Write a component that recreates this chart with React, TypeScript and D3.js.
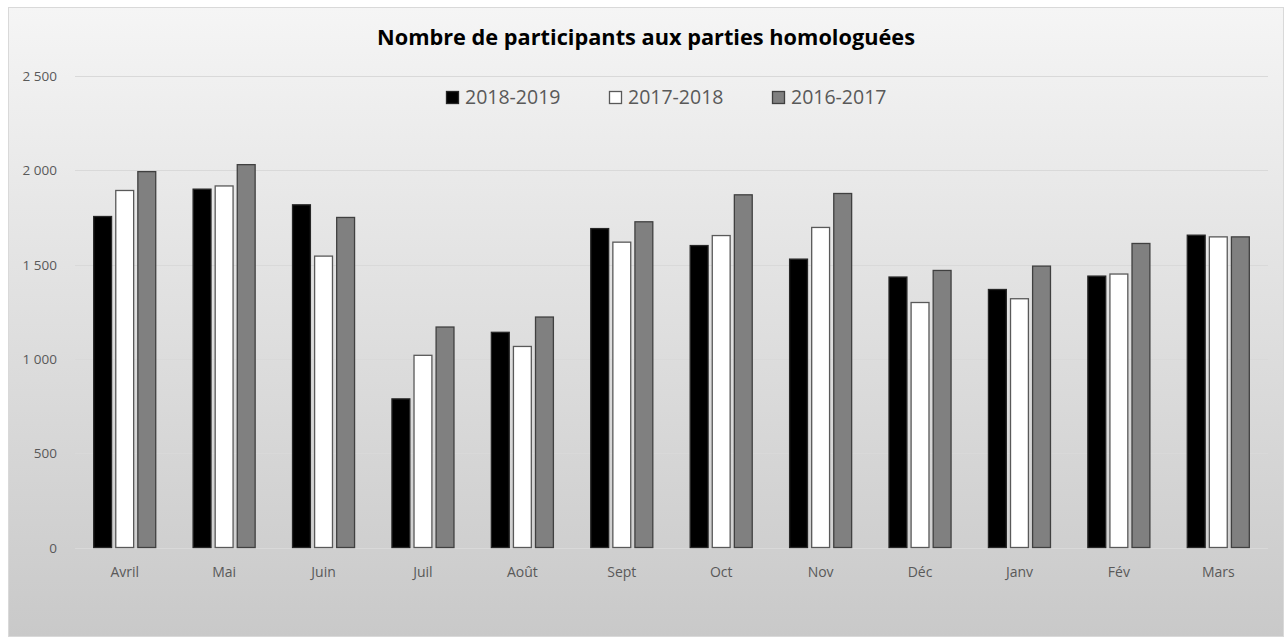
import React from 'react';
import * as d3 from 'd3';

// values
const months = ['Avril', 'Mai', 'Juin', 'Juil', 'Août', 'Sept', 'Oct', 'Nov', 'Déc', 'Janv', 'Fév', 'Mars'];
const seasons = ['2018-2019', '2017-2018', '2016-2017'];
const s2018 = [1755, 1900, 1817, 788, 1141, 1691, 1601, 1529, 1434, 1368, 1439, 1656];
const s2017 = [1893, 1917, 1545, 1019, 1066, 1619, 1654, 1697, 1299, 1319, 1450, 1647];
const s2016 = [1993, 2030, 1750, 1169, 1222, 1727, 1870, 1877, 1469, 1492, 1612, 1647];
const yTicks = [0, 500, 1000, 1500, 2000, 2500];

const fills = ['#000000', '#ffffff', '#808080'];
const strokes = ['#262626', '#595959', '#404040'];

const W = 1285;
const H = 639;
const margin = { top: 76, right: 17, bottom: 91, left: 75 };

export default function App() {
  const series = [s2018, s2017, s2016];

  const x0 = d3.scaleBand()
    .domain(months)
    .range([margin.left, W - margin.right])
    .paddingInner(0.376)
    .paddingOuter(0.188);

  const x1 = d3.scaleBand()
    .domain(seasons)
    .range([0, x0.bandwidth()])
    .paddingInner(0.19);

  const y = d3.scaleLinear()
    .domain([0, 2500])
    .range([H - margin.bottom - 0.5, margin.top]);

  const fmt = (v: number) => d3.format(',')(v).replace(',', ' ');
  const font = '"Open Sans", "Noto Sans", sans-serif';

  // legend positions
  const legendX = [446, 609, 772];

  return (
    <svg width={W} height={H} style={{ position: 'absolute', left: 0, top: 0 }}>
      <defs>
        <linearGradient id="bg" x1="0" y1="0" x2="0" y2="1">
          <stop offset="0%" stopColor="#f5f5f5" />
          <stop offset="100%" stopColor="#c9c9c9" />
        </linearGradient>
      </defs>
      <rect x={8.5} y={7.5} width={1275} height={629} fill="url(#bg)" stroke="#d9d9d9" />

      <text x={646} y={45} textAnchor="middle" fontFamily={font} fontWeight="bold"
        fontSize={21.5} fill="#000" textLength={538} lengthAdjust="spacingAndGlyphs">
        Nombre de participants aux parties homologuées
      </text>

      {/* grid + y labels */}
      {yTicks.map(t => (
        <g key={t}>
          <line x1={margin.left} x2={W - margin.right} y1={Math.round(y(t)) + 0.5} y2={Math.round(y(t)) + 0.5}
            stroke="#d9d9d9" strokeWidth={1} />
          <text x={57} y={y(t) + 5} textAnchor="end" fontFamily={font} fontSize={13.5} fill="#595959">
            {fmt(t)}
          </text>
        </g>
      ))}

      {/* bars */}
      {months.map((m, i) => (
        <g key={m} transform={`translate(${x0(m)},0)`}>
          {seasons.map((s, j) => (
            <rect key={s}
              x={x1(s)}
              y={y(series[j][i])}
              width={x1.bandwidth()}
              height={y(0) - y(series[j][i])}
              fill={fills[j]}
              stroke={strokes[j]}
              strokeWidth={1.3} />
          ))}
          <text x={x0.bandwidth() / 2} y={577} textAnchor="middle" fontFamily={font}
            fontSize={14} fill="#595959">{m}</text>
        </g>
      ))}

      {/* legend */}
      {seasons.map((s, j) => (
        <g key={s} transform={`translate(${legendX[j]},91)`}>
          <rect x={0.5} y={0.5} width={12} height={12} fill={fills[j]} stroke={strokes[j]} strokeWidth={1.3} />
          <text x={19} y={13} fontFamily={font} fontSize={19.5} fill="#595959">{s}</text>
        </g>
      ))}
    </svg>
  );
}
